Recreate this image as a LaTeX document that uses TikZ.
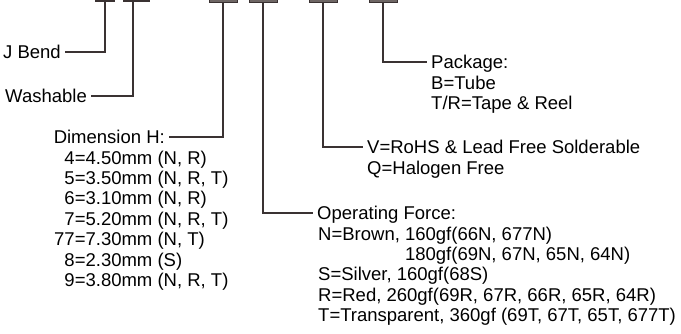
\documentclass[tikz,border=0pt]{standalone}
\usepackage{fontspec}
\setmainfont{Liberation Sans}
\definecolor{leadc}{HTML}{3A3232}
\definecolor{barc}{HTML}{6E6664}
\newcommand{\bigtxt}{\fontsize{18.5}{20.4}\selectfont}
\begin{document}
\begin{tikzpicture}[x=1pt,y=-1pt,
    lbl/.style={inner xsep=4pt,inner ysep=0pt,text height=13pt,text depth=0pt,font=\bigtxt},
    lst/.style={inner sep=0pt,anchor=base west,font=\bigtxt},
    lead/.style={draw=leadc,line width=1.1pt},
    bar/.style={draw=leadc,fill=barc,line width=0.6pt,inner sep=0pt,minimum width=28pt,minimum height=4pt}]
    \useasboundingbox (0,0) rectangle (681,333);

    % thin bars at the top
    \draw[lead] (95,1) -- (115,1);
    \coordinate (jbar) at (105,1);
    \draw[lead] (123,1) -- (150,1);
    \coordinate (wbar) at (133,1);
    % grey bars at the top
    \foreach \x/\n in {223/dim,263/opf,323/rohs,383/pkg}{
      \node[bar] (\n bar) at (\x,0.5) {};
    }

    \node[lbl,anchor=east] (jbend) at (65,52) {J Bend};
    \node[lbl,anchor=east] (wash) at (91,96) {Washable};

    \node[lbl,anchor=east] (dimh) at (169,137) {Dimension H:};
    \node[lst] (dimlist) at (54,164) {\begin{tabular}[t]{@{}r@{}l@{}}
        4&=4.50mm (N, R)\\
        5&=3.50mm (N, R, T)\\
        6&=3.10mm (N, R)\\
        7&=5.20mm (N, R, T)\\
        77&=7.30mm (N, T)\\
        8&=2.30mm (S)\\
        9&=3.80mm (N, R, T)
      \end{tabular}};

    \node[lbl,anchor=west] (opf) at (313,213) {Operating Force:};
    \node[lst] (opflist) at (318,240) {\begin{tabular}[t]{@{}l@{}}
        N=Brown, 160gf(66N, 677N)\\
        \phantom{N=Brown, }180gf(69N, 67N, 65N, 64N)\\
        S=Silver, 160gf(68S)\\
        R=Red, 260gf(69R, 67R, 66R, 65R, 64R)\\
        T=Transparent, 360gf (69T, 67T, 65T, 677T)
      \end{tabular}};

    \node[lbl,anchor=west] (rohs) at (363,147) {V=RoHS \& Lead Free Solderable};
    \node[lst] (rohslist) at (367,174.5) {Q=Halogen Free};

    \node[lbl,anchor=west] (pkg) at (427,62) {Package:};
    \node[lst] (pkglist) at (431,89) {\begin{tabular}[t]{@{}l@{}}
        B=Tube\\
        T/R=Tape \& Reel
      \end{tabular}};

    % leader lines
    \draw[lead] (jbar) |- (jbend.east);
    \draw[lead] (wbar) |- (wash.east);
    \draw[lead] (dimbar.south) |- (dimh.east);
    \draw[lead] (opfbar.south) |- (opf.west);
    \draw[lead] (rohsbar.south) |- (rohs.west);
    \draw[lead] (pkgbar.south) |- (pkg.west);
\end{tikzpicture}
\end{document}
